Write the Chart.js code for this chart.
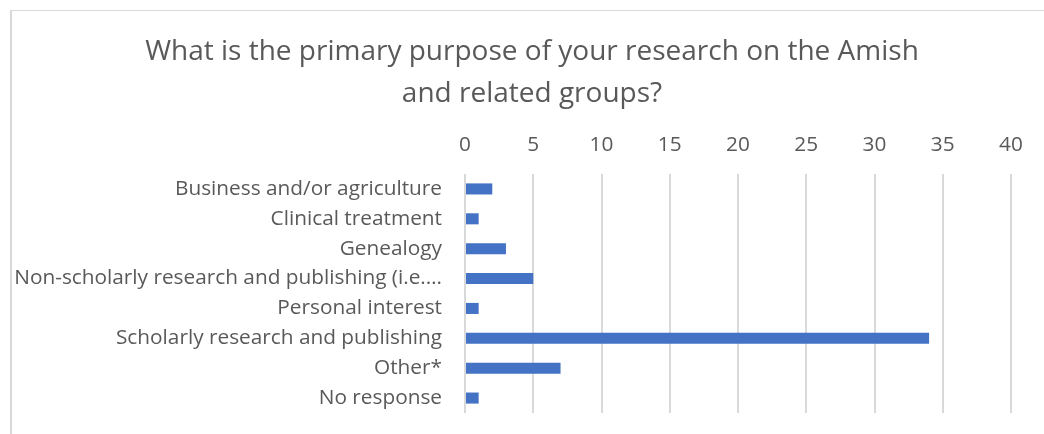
<!DOCTYPE html>
<html>
<head>
<meta charset="utf-8">
<script src="https://cdn.jsdelivr.net/npm/chart.js@4.4.1/dist/chart.umd.min.js"></script>
<style>
  html, body { margin: 0; padding: 0; background: #ffffff; }
  #frame { position: absolute; left: 10px; top: 10px; width: 1040px; height: 430px;
           border-left: 2px solid #d9d9d9; border-top: 1px solid #d9d9d9; }
  #wrap { position: absolute; left: 0; top: 0; width: 1044px; height: 434px; }
</style>
</head>
<body>
<div id="frame"></div>
<div id="wrap"><canvas id="c" width="1044" height="434"></canvas></div>
<script>
const titleLines = ["What is the primary purpose of your research on the Amish", "and related groups?"];
const categories = [
  "Business and/or agriculture",
  "Clinical treatment",
  "Genealogy",
  "Non-scholarly research and publishing (i.e.\u2026",
  "Personal interest",
  "Scholarly research and publishing",
  "Other*",
  "No response"
];
const counts = [2, 1, 3, 5, 1, 34, 7, 1];
const tickValues = [0, 5, 10, 15, 20, 25, 30, 35, 40];

const FONT = "'Open Sans', 'Noto Sans', sans-serif";
const TEXT = "#595959";
const GRID = "#d9d9d9";

// centre the title over the framed chart box rather than over the canvas
const titleShift = {
  id: 'titleShift',
  afterLayout(chart) {
    const t = chart.titleBlock;
    if (t) { t.left = 53; t.right = 1011; }
  }
};

new Chart(document.getElementById('c'), {
  type: 'bar',
  data: {
    labels: categories,
    datasets: [{
      label: 'Count',
      data: counts,
      backgroundColor: '#4472C4',
      borderWidth: 0,
      barPercentage: 1,
      categoryPercentage: 0.37
    }]
  },
  plugins: [titleShift],
  options: {
    indexAxis: 'y',
    responsive: false,
    animation: false,
    devicePixelRatio: 1,
    layout: { padding: { left: 0, right: 33, top: 0, bottom: 21 } },
    plugins: {
      legend: { display: false },
      tooltip: { enabled: false },
      title: {
        display: true,
        text: titleLines,
        color: TEXT,
        font: { family: FONT, size: 28, weight: 'normal', lineHeight: 1.5 },
        padding: { top: 31, bottom: 5 }
      }
    },
    scales: {
      x: {
        position: 'top',
        min: 0,
        max: 40,
        afterBuildTicks: s => { s.ticks = tickValues.map(v => ({ value: v })); },
        afterFit: s => { s.height = 54; },
        grid: { color: GRID, lineWidth: 2, drawTicks: false },
        border: { display: false },
        ticks: { color: TEXT, padding: 16, font: { family: FONT, size: 20.8 } }
      },
      y: {
        afterFit: s => { s.width = 465; s.paddingTop = 0; s.paddingBottom = 0; },
        grid: { display: false, drawTicks: false },
        border: { display: false },
        ticks: { color: TEXT, padding: 23, autoSkip: false, font: { family: FONT, size: 20.8 } }
      }
    }
  }
});
</script>
</body>
</html>
